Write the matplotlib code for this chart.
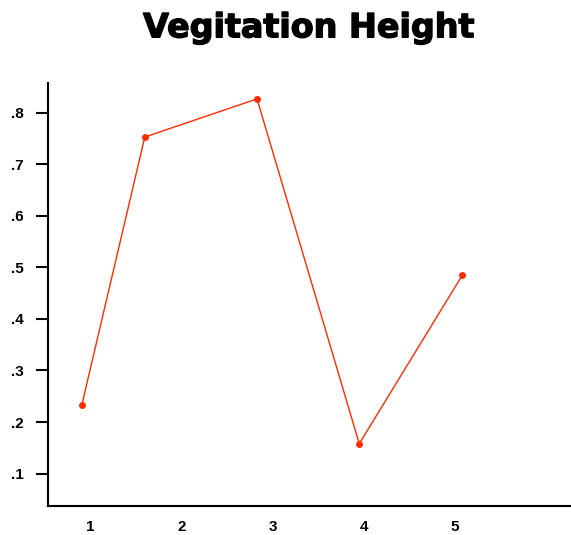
import matplotlib
matplotlib.use('Agg')
import matplotlib.pyplot as plt
import matplotlib.patheffects as pe

# data
x_vals = [0.91, 1.60, 2.83, 3.95, 5.08]
heights = [0.233, 0.753, 0.827, 0.158, 0.485]
x_ticks = [1, 2, 3, 4, 5]
x_labels = ['1', '2', '3', '4', '5']
y_ticks = [0.1, 0.2, 0.3, 0.4, 0.5, 0.6, 0.7, 0.8]
y_labels = ['.1', '.2', '.3', '.4', '.5', '.6', '.7', '.8']

fig = plt.figure(figsize=(5.71, 5.35), dpi=100)
ax = fig.add_axes([0.0835, 0.0542, 0.9165, 0.7908])

ax.plot(x_vals, heights, color='#ff2a00', linewidth=1.0, marker='o',
        markersize=5, markeredgewidth=0)

ax.set_xlim(0.536, 6.27)
ax.set_ylim(0.037, 0.858)

ax.set_xticks(x_ticks)
ax.set_xticklabels(x_labels, fontsize=11, fontweight='bold',
                   family='Liberation Sans')
ax.set_yticks(y_ticks)
ax.set_yticklabels(y_labels, fontsize=11, fontweight='bold',
                   family='Liberation Sans')
ax.tick_params(axis='x', length=0, pad=10)
ax.tick_params(axis='y', length=9, width=1.5, pad=8)

for side in ['top', 'right']:
    ax.spines[side].set_visible(False)
for side in ['left', 'bottom']:
    ax.spines[side].set_linewidth(1.5)

fig.text(0.541, 1 - 37.3 / 535, 'Vegitation Height', ha='center',
         va='baseline', fontsize=24, fontweight='bold',
         family='DejaVu Sans',
         path_effects=[pe.withStroke(linewidth=1.0, foreground='black')])

fig.savefig('out.png', dpi=100)
